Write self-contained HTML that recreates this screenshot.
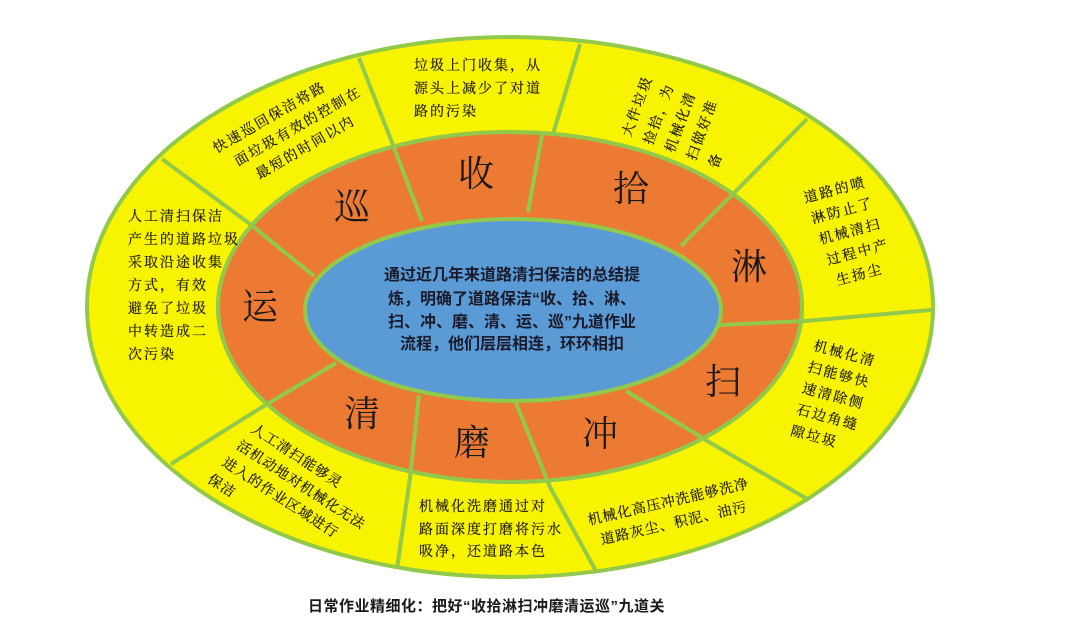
<!DOCTYPE html>
<html><head><meta charset="utf-8"><style>
html,body{margin:0;padding:0;background:#fff;}
svg{display:block;}
.s{font-family:"Liberation Serif","Noto Serif CJK SC",serif;font-size:14px;fill:#1e1a08;letter-spacing:2px;stroke:#1e1a08;stroke-width:0.2px;}
.b{font-family:"Liberation Serif","Noto Serif CJK SC",serif;font-size:36px;fill:#1a1a1a;}
.c{font-family:"Liberation Sans","Noto Sans CJK SC",sans-serif;font-size:16px;font-weight:bold;fill:#1a1a2a;}
</style></head><body>
<svg width="1080" height="633" viewBox="0 0 1080 633" xmlns="http://www.w3.org/2000/svg">
<rect width="1080" height="633" fill="#fff"/>
<ellipse cx="510" cy="307" rx="423" ry="270" fill="#f8f400" stroke="#92c94a" stroke-width="4"/>
<ellipse cx="510" cy="307" rx="292" ry="175" fill="#ed7a32" stroke="#92c94a" stroke-width="4"/>
<g stroke="#92c94a" stroke-width="4" fill="none">
<polyline points="422,221 393,145 359,58"/>
<line x1="528" y1="212" x2="542" y2="135"/>
<line x1="553" y1="134" x2="580" y2="44"/>
<polyline points="681,246 733,194 807,119"/>
<polyline points="719,325 805,321 931,310"/>
<polyline points="626,391 709,442 809,500"/>
<polyline points="516,403 550,487 597,573"/>
<polyline points="419,395 410,478 397,569"/>
<polyline points="336,363 259,409 171,464"/>
<polyline points="314,276 250,224 162,159"/>
</g>
<ellipse cx="510" cy="307" rx="292" ry="175" fill="none" stroke="#92c94a" stroke-width="4"/>
<ellipse cx="513" cy="310" rx="208" ry="91" fill="#5b9bd5" stroke="#92c94a" stroke-width="4"/>

<g class="b" text-anchor="middle">
<text x="352" y="219">巡</text>
<text x="476" y="186">收</text>
<text x="631" y="201">拾</text>
<text x="749" y="279">淋</text>
<text x="723" y="394">扫</text>
<text x="600" y="446">冲</text>
<text x="472" y="455">磨</text>
<text x="362" y="426">清</text>
<text x="260" y="319">运</text>
</g>

<g class="c" text-anchor="middle">
<text x="512" y="280">通过近几年来道路清扫保洁的总结提</text>
<text x="512" y="304">炼，明确了道路保洁“收、拾、淋、</text>
<text x="512" y="327">扫、冲、磨、清、运、巡”九道作业</text>
<text x="512" y="349">流程，他们层层相连，环环相扣</text>
</g>

<text class="s" x="414" y="70">垃圾上门收集，从<tspan x="414" dy="23">源头上减少了对道</tspan><tspan x="414" dy="23">路的污染</tspan></text>

<text class="s" x="128" y="221">人工清扫保洁<tspan x="128" dy="23">产生的道路垃圾</tspan><tspan x="128" dy="23">采取沿途收集</tspan><tspan x="128" dy="23">方式，有效</tspan><tspan x="128" dy="23">避免了垃圾</tspan><tspan x="128" dy="23">中转造成二</tspan><tspan x="128" dy="23">次污染</tspan></text>

<text class="s" transform="translate(214,149) rotate(-30)"><tspan x="0" y="5">快速巡回保洁将路</tspan><tspan x="12" dy="22">面垃圾有效的控制在</tspan><tspan x="24" dy="22">最短的时间以内</tspan></text>

<text class="s" transform="translate(626,136) rotate(-70)"><tspan x="0" y="5">大件垃圾</tspan><tspan x="0" dy="23">捡拾，为</tspan><tspan x="0" dy="23">机械化清</tspan><tspan x="0" dy="23">扫做好准</tspan><tspan x="0" dy="23">备</tspan></text>

<text class="s" transform="translate(804,198) rotate(-15)"><tspan x="0" y="5">道路的喷</tspan><tspan x="2" dy="22">淋防止了</tspan><tspan x="4" dy="22">机械清扫</tspan><tspan x="6" dy="22">过程中产</tspan><tspan x="10" dy="22">生扬尘</tspan></text>

<text class="s" transform="translate(814,345) rotate(15)"><tspan x="0" y="5">机械化清</tspan><tspan x="0" dy="22">扫能够快</tspan><tspan x="0" dy="22">速清除侧</tspan><tspan x="0" dy="22">石边角缝</tspan><tspan x="0" dy="22">隙垃圾</tspan></text>

<text class="s" style="letter-spacing:1px" transform="translate(588,520) rotate(-13)"><tspan x="0" y="5">机械化高压冲洗能够洗净</tspan><tspan x="8" dy="22">道路灰尘、积泥、油污</tspan></text>

<text class="s" x="419" y="511">机械化洗磨通过对<tspan x="419" dy="23">路面深度打磨将污水</tspan><tspan x="419" dy="22">吸净，还道路本色</tspan></text>

<text class="s" style="letter-spacing:1px" transform="translate(253,427) rotate(33)"><tspan x="0" y="5">人工清扫能够灵</tspan><tspan x="-3" dy="22">活机动地对机械化无法</tspan><tspan x="-6" dy="22">进入的作业区域进行</tspan><tspan x="-9" dy="22">保洁</tspan></text>

<text x="308" y="611" style="font-family:'Liberation Sans','Noto Sans CJK SC',sans-serif;font-size:15px;font-weight:bold;fill:#1a1a1a;letter-spacing:0.5px;">日常作业精细化：把好“收拾淋扫冲磨清运巡”九道关</text>
</svg>
</body></html>
